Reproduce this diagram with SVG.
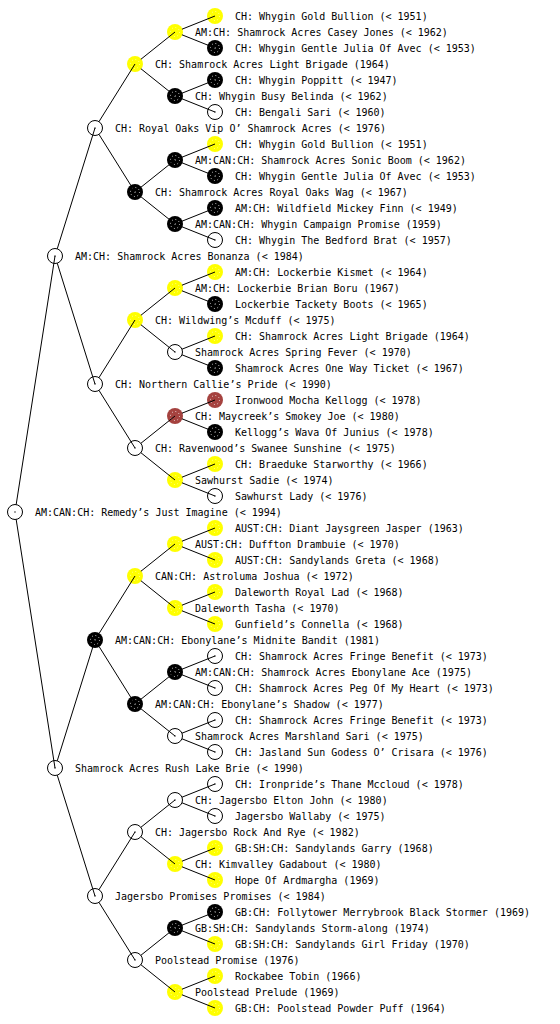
<svg xmlns="http://www.w3.org/2000/svg" xmlns:xlink="http://www.w3.org/1999/xlink" width="560" height="1024" viewBox="0 0 560 1024">
<style>
text{font-family:"DejaVu Sans Mono","Liberation Mono",monospace;font-size:10px;fill:#000}
.c{stroke:#000;stroke-width:1;fill:none}
</style>
<defs>
<g id="nw"><circle r="7.5" fill="#fff" stroke="#000"/><circle r="0.7" fill="#000"/></g>
<g id="ny"><circle r="8" fill="#ffff00"/><circle r="4.5" fill="none" stroke="#fff" stroke-width="0.8" stroke-dasharray="1 2.5" opacity="0.7"/></g>
<g id="nb"><circle r="8" fill="#000"/><circle r="4.5" fill="none" stroke="#fff" stroke-width="0.8" stroke-dasharray="1 2.5"/><circle r="0.7" fill="#fff"/></g>
<g id="nr"><circle r="8" fill="#a5423f"/><circle r="4.5" fill="none" stroke="#fff" stroke-width="0.8" stroke-dasharray="1 2.5"/></g>
</defs>
<rect width="560" height="1024" fill="#fff"/>
<g id="n0"><use href="#nw" x="15" y="512"/><text x="35" y="516">AM:CAN:CH: Remedy’s Just Imagine (&lt; 1994)</text></g>
<g id="n1-0"><use href="#nw" x="55" y="256"/><text x="75" y="260">AM:CH: Shamrock Acres Bonanza (&lt; 1984)</text></g>
<g id="n1-1"><use href="#nw" x="55" y="768"/><text x="75" y="772">Shamrock Acres Rush Lake Brie (&lt; 1990)</text></g>
<g id="n2-0"><use href="#nw" x="95" y="128"/><text x="115" y="132">CH: Royal Oaks Vip O’ Shamrock Acres (&lt; 1976)</text></g>
<g id="n2-1"><use href="#nw" x="95" y="384"/><text x="115" y="388">CH: Northern Callie’s Pride (&lt; 1990)</text></g>
<g id="n2-2"><use href="#nb" x="95" y="640"/><text x="115" y="644">AM:CAN:CH: Ebonylane’s Midnite Bandit (1981)</text></g>
<g id="n2-3"><use href="#nw" x="95" y="896"/><text x="115" y="900">Jagersbo Promises Promises (&lt; 1984)</text></g>
<g id="n3-0"><use href="#ny" x="135" y="64"/><text x="155" y="68">CH: Shamrock Acres Light Brigade (1964)</text></g>
<g id="n3-1"><use href="#nb" x="135" y="192"/><text x="155" y="196">CH: Shamrock Acres Royal Oaks Wag (&lt; 1967)</text></g>
<g id="n3-2"><use href="#ny" x="135" y="320"/><text x="155" y="324">CH: Wildwing’s Mcduff (&lt; 1975)</text></g>
<g id="n3-3"><use href="#nw" x="135" y="448"/><text x="155" y="452">CH: Ravenwood’s Swanee Sunshine (&lt; 1975)</text></g>
<g id="n3-4"><use href="#ny" x="135" y="576"/><text x="155" y="580">CAN:CH: Astroluma Joshua (&lt; 1972)</text></g>
<g id="n3-5"><use href="#nb" x="135" y="704"/><text x="155" y="708">AM:CAN:CH: Ebonylane’s Shadow (&lt; 1977)</text></g>
<g id="n3-6"><use href="#nw" x="135" y="832"/><text x="155" y="836">CH: Jagersbo Rock And Rye (&lt; 1982)</text></g>
<g id="n3-7"><use href="#nw" x="135" y="960"/><text x="155" y="964">Poolstead Promise (1976)</text></g>
<g id="n4-0"><use href="#ny" x="175" y="32"/><text x="195" y="36">AM:CH: Shamrock Acres Casey Jones (&lt; 1962)</text></g>
<g id="n4-1"><use href="#nb" x="175" y="96"/><text x="195" y="100">CH: Whygin Busy Belinda (&lt; 1962)</text></g>
<g id="n4-2"><use href="#nb" x="175" y="160"/><text x="195" y="164">AM:CAN:CH: Shamrock Acres Sonic Boom (&lt; 1962)</text></g>
<g id="n4-3"><use href="#nb" x="175" y="224"/><text x="195" y="228">AM:CAN:CH: Whygin Campaign Promise (1959)</text></g>
<g id="n4-4"><use href="#ny" x="175" y="288"/><text x="195" y="292">AM:CH: Lockerbie Brian Boru (1967)</text></g>
<g id="n4-5"><use href="#nw" x="175" y="352"/><text x="195" y="356">Shamrock Acres Spring Fever (&lt; 1970)</text></g>
<g id="n4-6"><use href="#nr" x="175" y="416"/><text x="195" y="420">CH: Maycreek’s Smokey Joe (&lt; 1980)</text></g>
<g id="n4-7"><use href="#ny" x="175" y="480"/><text x="195" y="484">Sawhurst Sadie (&lt; 1974)</text></g>
<g id="n4-8"><use href="#ny" x="175" y="544"/><text x="195" y="548">AUST:CH: Duffton Drambuie (&lt; 1970)</text></g>
<g id="n4-9"><use href="#ny" x="175" y="608"/><text x="195" y="612">Daleworth Tasha (&lt; 1970)</text></g>
<g id="n4-10"><use href="#nb" x="175" y="672"/><text x="195" y="676">AM:CAN:CH: Shamrock Acres Ebonylane Ace (1975)</text></g>
<g id="n4-11"><use href="#nw" x="175" y="736"/><text x="195" y="740">Shamrock Acres Marshland Sari (&lt; 1975)</text></g>
<g id="n4-12"><use href="#nw" x="175" y="800"/><text x="195" y="804">CH: Jagersbo Elton John (&lt; 1980)</text></g>
<g id="n4-13"><use href="#ny" x="175" y="864"/><text x="195" y="868">CH: Kimvalley Gadabout (&lt; 1980)</text></g>
<g id="n4-14"><use href="#nb" x="175" y="928"/><text x="195" y="932">GB:SH:CH: Sandylands Storm-along (1974)</text></g>
<g id="n4-15"><use href="#ny" x="175" y="992"/><text x="195" y="996">Poolstead Prelude (1969)</text></g>
<g id="n5-0"><use href="#ny" x="215" y="16"/><text x="235" y="20">CH: Whygin Gold Bullion (&lt; 1951)</text></g>
<g id="n5-1"><use href="#nb" x="215" y="48"/><text x="235" y="52">CH: Whygin Gentle Julia Of Avec (&lt; 1953)</text></g>
<g id="n5-2"><use href="#nb" x="215" y="80"/><text x="235" y="84">CH: Whygin Poppitt (&lt; 1947)</text></g>
<g id="n5-3"><use href="#nw" x="215" y="112"/><text x="235" y="116">CH: Bengali Sari (&lt; 1960)</text></g>
<g id="n5-4"><use href="#ny" x="215" y="144"/><text x="235" y="148">CH: Whygin Gold Bullion (&lt; 1951)</text></g>
<g id="n5-5"><use href="#nb" x="215" y="176"/><text x="235" y="180">CH: Whygin Gentle Julia Of Avec (&lt; 1953)</text></g>
<g id="n5-6"><use href="#nb" x="215" y="208"/><text x="235" y="212">AM:CH: Wildfield Mickey Finn (&lt; 1949)</text></g>
<g id="n5-7"><use href="#nw" x="215" y="240"/><text x="235" y="244">CH: Whygin The Bedford Brat (&lt; 1957)</text></g>
<g id="n5-8"><use href="#ny" x="215" y="272"/><text x="235" y="276">AM:CH: Lockerbie Kismet (&lt; 1964)</text></g>
<g id="n5-9"><use href="#nb" x="215" y="304"/><text x="235" y="308">Lockerbie Tackety Boots (&lt; 1965)</text></g>
<g id="n5-10"><use href="#ny" x="215" y="336"/><text x="235" y="340">CH: Shamrock Acres Light Brigade (1964)</text></g>
<g id="n5-11"><use href="#nb" x="215" y="368"/><text x="235" y="372">Shamrock Acres One Way Ticket (&lt; 1967)</text></g>
<g id="n5-12"><use href="#nr" x="215" y="400"/><text x="235" y="404">Ironwood Mocha Kellogg (&lt; 1978)</text></g>
<g id="n5-13"><use href="#nb" x="215" y="432"/><text x="235" y="436">Kellogg’s Wava Of Junius (&lt; 1978)</text></g>
<g id="n5-14"><use href="#ny" x="215" y="464"/><text x="235" y="468">CH: Braeduke Starworthy (&lt; 1966)</text></g>
<g id="n5-15"><use href="#nw" x="215" y="496"/><text x="235" y="500">Sawhurst Lady (&lt; 1976)</text></g>
<g id="n5-16"><use href="#ny" x="215" y="528"/><text x="235" y="532">AUST:CH: Diant Jaysgreen Jasper (1963)</text></g>
<g id="n5-17"><use href="#ny" x="215" y="560"/><text x="235" y="564">AUST:CH: Sandylands Greta (&lt; 1968)</text></g>
<g id="n5-18"><use href="#ny" x="215" y="592"/><text x="235" y="596">Daleworth Royal Lad (&lt; 1968)</text></g>
<g id="n5-19"><use href="#ny" x="215" y="624"/><text x="235" y="628">Gunfield’s Connella (&lt; 1968)</text></g>
<g id="n5-20"><use href="#nw" x="215" y="656"/><text x="235" y="660">CH: Shamrock Acres Fringe Benefit (&lt; 1973)</text></g>
<g id="n5-21"><use href="#nw" x="215" y="688"/><text x="235" y="692">CH: Shamrock Acres Peg Of My Heart (&lt; 1973)</text></g>
<g id="n5-22"><use href="#nw" x="215" y="720"/><text x="235" y="724">CH: Shamrock Acres Fringe Benefit (&lt; 1973)</text></g>
<g id="n5-23"><use href="#nw" x="215" y="752"/><text x="235" y="756">CH: Jasland Sun Godess O’ Crisara (&lt; 1976)</text></g>
<g id="n5-24"><use href="#nw" x="215" y="784"/><text x="235" y="788">CH: Ironpride’s Thane Mccloud (&lt; 1978)</text></g>
<g id="n5-25"><use href="#nw" x="215" y="816"/><text x="235" y="820">Jagersbo Wallaby (&lt; 1975)</text></g>
<g id="n5-26"><use href="#ny" x="215" y="848"/><text x="235" y="852">GB:SH:CH: Sandylands Garry (1968)</text></g>
<g id="n5-27"><use href="#ny" x="215" y="880"/><text x="235" y="884">Hope Of Ardmargha (1969)</text></g>
<g id="n5-28"><use href="#nb" x="215" y="912"/><text x="235" y="916">GB:CH: Follytower Merrybrook Black Stormer (1969)</text></g>
<g id="n5-29"><use href="#ny" x="215" y="944"/><text x="235" y="948">GB:SH:CH: Sandylands Girl Friday (1970)</text></g>
<g id="n5-30"><use href="#ny" x="215" y="976"/><text x="235" y="980">Rockabee Tobin (1966)</text></g>
<g id="n5-31"><use href="#ny" x="215" y="1008"/><text x="235" y="1012">GB:CH: Poolstead Powder Puff (1964)</text></g>
<g id="connectors" class="c">
<path d="M16.16 504.59L55 256M16.16 519.41L55 768
M57.24 248.84L95 128M57.24 263.16L95 384M57.24 760.84L95 640M57.24 775.16L95 896
M98.98 121.64L135 64M98.98 134.36L135 192M98.98 377.64L135 320M98.98 390.36L135 448M98.98 633.64L135 576M98.98 646.36L135 704M98.98 889.64L135 832M98.98 902.36L135 960
M140.86 59.31L175 32M140.86 68.69L175 96M140.86 187.31L175 160M140.86 196.69L175 224M140.86 315.31L175 288M140.86 324.69L175 352M140.86 443.31L175 416M140.86 452.69L175 480M140.86 571.31L175 544M140.86 580.69L175 608M140.86 699.31L175 672M140.86 708.69L175 736M140.86 827.31L175 800M140.86 836.69L175 864M140.86 955.31L175 928M140.86 964.69L175 992
M181.96 29.21L215 16M181.96 34.79L215 48M181.96 93.21L215 80M181.96 98.79L215 112M181.96 157.21L215 144M181.96 162.79L215 176M181.96 221.21L215 208M181.96 226.79L215 240M181.96 285.21L215 272M181.96 290.79L215 304M181.96 349.21L215 336M181.96 354.79L215 368M181.96 413.21L215 400M181.96 418.79L215 432M181.96 477.21L215 464M181.96 482.79L215 496M181.96 541.21L215 528M181.96 546.79L215 560M181.96 605.21L215 592M181.96 610.79L215 624M181.96 669.21L215 656M181.96 674.79L215 688M181.96 733.21L215 720M181.96 738.79L215 752M181.96 797.21L215 784M181.96 802.79L215 816M181.96 861.21L215 848M181.96 866.79L215 880M181.96 925.21L215 912M181.96 930.79L215 944M181.96 989.21L215 976M181.96 994.79L215 1008"/>
</g>
</svg>
